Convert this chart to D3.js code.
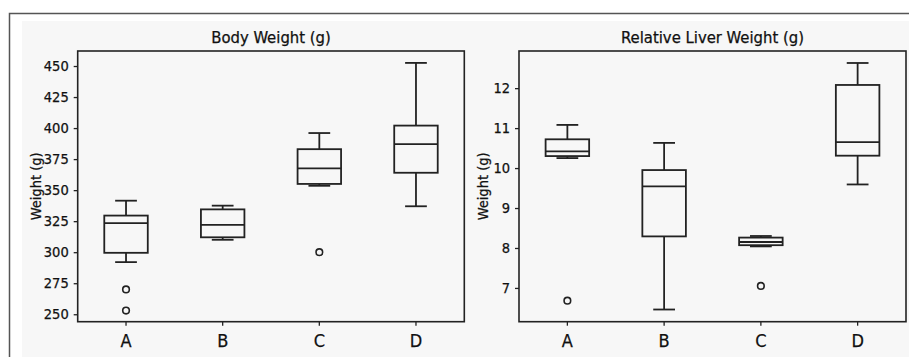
<!DOCTYPE html>
<html>
<head>
<meta charset="utf-8">
<script src="https://cdn.jsdelivr.net/npm/d3@7"></script>
<style>
  body { margin: 0; background: #fff; }
  svg text { font-family: "DejaVu Sans Condensed", "DejaVu Sans", sans-serif; fill: #111; stroke: #111; stroke-width: 0.25px; }
</style>
</head>
<body>
<div id="chart"></div>
<script>
// groups on the x axis
var groups = ['A', 'B', 'C', 'D'];

// Body weight box stats
var bwLow    = [292, 310, 353.5, 337];
var bwQ1     = [299.5, 312, 355, 364];
var bwMedian = [323.5, 322, 367.5, 387];
var bwQ3     = [329.5, 334.5, 383, 402];
var bwHigh   = [341.5, 337.5, 396, 452.5];
var bwOut    = [[270, 253], [], [300], []];
var bwTicks  = [250, 275, 300, 325, 350, 375, 400, 425, 450];

// Relative liver weight box stats
var lvLow    = [10.25, 6.46, 8.04, 9.59];
var lvQ1     = [10.30, 8.29, 8.07, 10.31];
var lvMedian = [10.42, 9.54, 8.15, 10.65];
var lvQ3     = [10.72, 9.95, 8.26, 12.08];
var lvHigh   = [11.08, 10.63, 8.30, 12.63];
var lvOut    = [[6.68], [], [7.05], []];
var lvTicks  = [7, 8, 9, 10, 11, 12];

var W = 909, H = 357;
var ink = '#222';

var svg = d3.select('#chart').append('svg')
    .attr('width', W)
    .attr('height', H);

// frame + light background
svg.append('rect').attr('x', 22).attr('y', 21).attr('width', W - 22).attr('height', H - 21)
   .style('fill', '#f7f7f7');
svg.append('path').attr('d', 'M9.5,' + H + 'V13.5H' + W)
   .style('fill', 'none').style('stroke', '#555').style('stroke-width', 1.5);

function drawPanel(opts) {
    var left = opts.left, right = opts.right, top = 51, bottom = 321.7;
    var x = d3.scaleBand().domain(groups).range([left, right]).padding(0);
    var y = d3.scaleLinear().domain(opts.domain).range([bottom, top]);
    var bw = x.bandwidth() * 0.45, cw = x.bandwidth() * 0.225;

    var g = svg.append('g');

    // y axis
    var ya = g.append('g').attr('transform', 'translate(' + left + ',0)')
        .call(d3.axisLeft(y).tickValues(opts.ticks).tickFormat(d3.format('d')).tickSize(4).tickPadding(5));
    ya.select('.domain').remove();
    ya.selectAll('line').style('stroke', ink).style('stroke-width', 1.3);
    ya.selectAll('text').style('font-size', '14.5px').style('font-family', null);

    // x axis
    var xa = g.append('g').attr('transform', 'translate(0,' + bottom + ')')
        .call(d3.axisBottom(x).tickSize(4).tickPadding(9));
    xa.select('.domain').remove();
    xa.selectAll('line').style('stroke', ink).style('stroke-width', 1.3);
    xa.selectAll('text').style('font-size', '18px').style('font-family', null);

    // boxes
    groups.forEach(function(k, i) {
        var cx = x(k) + x.bandwidth() / 2;
        var bg = g.append('g').style('stroke', ink).style('stroke-width', 1.8).style('fill', 'none');
        bg.append('line').attr('x1', cx).attr('x2', cx).attr('y1', y(opts.q3[i])).attr('y2', y(opts.high[i]));
        bg.append('line').attr('x1', cx).attr('x2', cx).attr('y1', y(opts.q1[i])).attr('y2', y(opts.low[i]));
        bg.append('line').attr('x1', cx - cw / 2).attr('x2', cx + cw / 2).attr('y1', y(opts.high[i])).attr('y2', y(opts.high[i]));
        bg.append('line').attr('x1', cx - cw / 2).attr('x2', cx + cw / 2).attr('y1', y(opts.low[i])).attr('y2', y(opts.low[i]));
        bg.append('rect').attr('x', cx - bw / 2).attr('width', bw)
          .attr('y', y(opts.q3[i])).attr('height', y(opts.q1[i]) - y(opts.q3[i]));
        bg.append('line').attr('x1', cx - bw / 2).attr('x2', cx + bw / 2).attr('y1', y(opts.median[i])).attr('y2', y(opts.median[i]));
        opts.out[i].forEach(function(v) {
            bg.append('circle').attr('cx', cx).attr('cy', y(v)).attr('r', 3.3).style('stroke-width', 1.6);
        });
    });

    // frame of the axes
    g.append('rect').attr('x', left).attr('y', top).attr('width', right - left).attr('height', bottom - top)
     .style('fill', 'none').style('stroke', ink).style('stroke-width', 1.6);

    // title and y label
    g.append('text').attr('x', (left + right) / 2).attr('y', 43)
     .attr('text-anchor', 'middle').style('font-size', '16.5px').text(opts.title);
    g.append('text')
     .attr('transform', 'translate(' + opts.labelX + ',' + ((top + bottom) / 2) + ') rotate(-90)')
     .attr('text-anchor', 'middle').style('font-size', '14.5px').text('Weight (g)');
}

drawPanel({
    left: 77.7, right: 464.3, domain: [244, 462.1], ticks: bwTicks,
    low: bwLow, q1: bwQ1, median: bwMedian, q3: bwQ3, high: bwHigh, out: bwOut,
    title: 'Body Weight (g)', labelX: 40.5
});
drawPanel({
    left: 519, right: 906, domain: [6.155, 12.93], ticks: lvTicks,
    low: lvLow, q1: lvQ1, median: lvMedian, q3: lvQ3, high: lvHigh, out: lvOut,
    title: 'Relative Liver Weight (g)', labelX: 487.5
});
</script>
</body>
</html>
